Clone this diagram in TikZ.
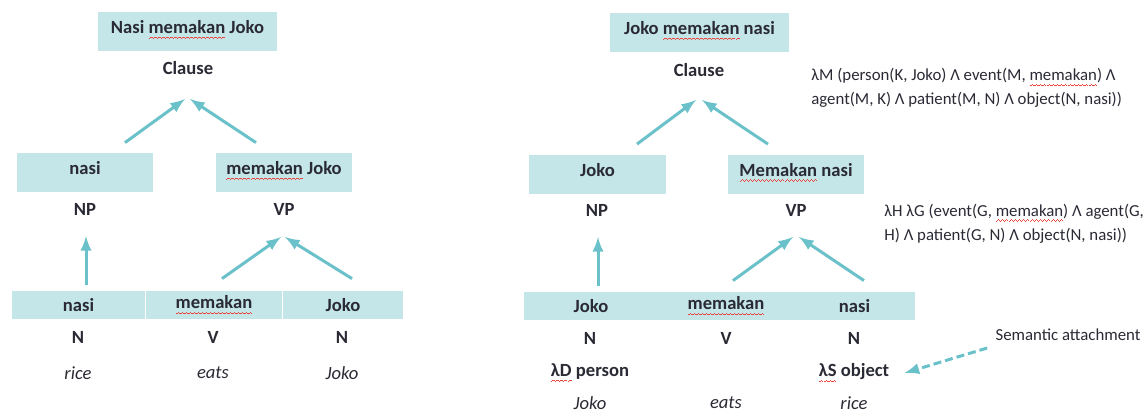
\documentclass[tikz,border=0pt]{standalone}
\usepackage{fontspec}
\setmainfont{Carlito}
\usetikzlibrary{positioning}

\definecolor{boxfill}{HTML}{C4E6E8}
\definecolor{linkcol}{HTML}{6BC1C9}
\definecolor{inkcol}{HTML}{2A2A35}
\definecolor{spellred}{HTML}{E8453C}

% red spell-check wave under a word
\newcommand\wavebit{\rule[0pt]{0.5pt}{0.5pt}\rule[0.4pt]{0.5pt}{0.5pt}\rule[0.8pt]{0.5pt}{0.5pt}\rule[0.4pt]{0.5pt}{0.5pt}}
\newcommand\sq[1]{\setbox0\hbox{#1}\rlap{\color{spellred}\lower2.8pt\hbox to\wd0{\xleaders\hbox{\wavebit}\hfill}}\box0\relax}

\tikzset{
  treefont/.style={font=\fontsize{8.4}{12}\selectfont},
  treebox/.style={fill=boxfill,inner sep=0pt,text=inkcol,font=\fontsize{9.3}{12}\selectfont\bfseries},
  bigbox/.style={treebox,minimum height=19.5pt,text depth=4.5pt},
  wordbox/.style={treebox,minimum height=14pt},
  cat/.style={inner sep=0pt,text=inkcol,font=\fontsize{9.3}{12}\selectfont\bfseries},
  gloss/.style={inner sep=0pt,text=inkcol,font=\fontsize{9.3}{12}\selectfont\itshape},
  sem/.style={treefont,inner sep=0pt,text=inkcol,align=left,anchor=west}
}

\begin{document}
\begin{tikzpicture}[
    x=0.5pt,y=-0.5pt,
    link/.style={line width=1.5pt,linkcol,-latex}
  ]
  \useasboundingbox (0,0) rectangle (1148,414);

  % Nasi memakan Joko
  \node[bigbox,minimum width=89.5pt] (top1) at (187.5,31.5) {Nasi \sq{memakan} Joko};
  \node[cat] (cl1) at (188,68) {Clause};
  \node[bigbox,minimum width=68pt] (np1) at (85,172.5) {nasi};
  \node[bigbox,minimum width=68pt] (vp1) at (284,172.5) {\sq{memakan} Joko};
  \node[cat] (nplab1) at (85,209) {NP};
  \node[cat] (vplab1) at (284,209) {VP};
  \node[wordbox,minimum width=66.5pt] (wa1) at (78.5,305) {nasi};
  \node[wordbox,minimum width=68pt] (wb1) at (214,305) {\sq{memakan}};
  \node[wordbox,minimum width=60pt] (wc1) at (343,305) {Joko};
  \node[cat] (ta1) at (78,337) {N};
  \node[cat] (tb1) at (213,337) {V};
  \node[cat] (tc1) at (342,337) {N};
  \node[gloss] (ga1) at (78,373) {rice};
  \node[gloss] (gb1) at (213,373) {eats};
  \node[gloss] (gc1) at (342,373) {Joko};

  \draw[link] ([xshift=20pt,yshift=5pt]np1.north) -- ([xshift=-1.5pt,yshift=-15.5pt]cl1.center);
  \draw[link] ([xshift=-14pt,yshift=5pt]vp1.north) -- ([xshift=1pt,yshift=-15.5pt]cl1.center);
  \draw[link] ([xshift=3.75pt,yshift=3pt]wa1.north) -- ([xshift=0.5pt,yshift=-13.5pt]nplab1.center);
  \draw[link] ([xshift=4pt,yshift=6pt]wb1.north) -- ([xshift=-1.5pt,yshift=-14pt]vplab1.center);
  \draw[link] ([xshift=4.5pt,yshift=6pt]wc1.north) -- ([xshift=0.5pt,yshift=-14pt]vplab1.center);

  % Joko memakan nasi
  \node[bigbox,minimum width=89.5pt] (top2) at (699.5,32.5) {Joko \sq{memakan} nasi};
  \node[cat] (cl2) at (699,70) {Clause};
  \node[bigbox,minimum width=68.5pt] (np2) at (597.5,174) {Joko};
  \node[bigbox,minimum width=68pt] (vp2) at (796,174) {\sq{Memakan} nasi};
  \node[cat] (nplab2) at (597,210) {NP};
  \node[cat] (vplab2) at (796,210) {VP};
  \node[wordbox,minimum width=67pt] (wa2) at (591,306) {Joko};
  \node[wordbox,minimum width=68pt] (wb2) at (726,306) {\sq{memakan}};
  \node[wordbox,minimum width=60.5pt] (wc2) at (854.5,306) {nasi};
  \node[cat] (ta2) at (590,338) {N};
  \node[cat] (tb2) at (726,338) {V};
  \node[cat] (tc2) at (854,338) {N};
  \node[cat] (la2) at (590,373) {\sq{λD} person};
  \node[cat] (lc2) at (854,373) {\sq{λS} object};
  \node[gloss] (ga2) at (590,403) {Joko};
  \node[gloss] (gb2) at (726,403) {eats};
  \node[gloss] (gc2) at (854,403) {rice};

  \draw[link] ([xshift=19.75pt,yshift=5pt]np2.north) -- ([xshift=-1.5pt,yshift=-15pt]cl2.center);
  \draw[link] ([xshift=-14pt,yshift=5pt]vp2.north) -- ([xshift=1.5pt,yshift=-15pt]cl2.center);
  \draw[link] ([xshift=3.5pt,yshift=3pt]wa2.north) -- ([xshift=0.5pt,yshift=-13.5pt]nplab2.center);
  \draw[link] ([xshift=3.5pt,yshift=5.5pt]wb2.north) -- ([xshift=-1.5pt,yshift=-13.5pt]vplab2.center);
  \draw[link] ([xshift=4.75pt,yshift=5.5pt]wc2.north) -- ([xshift=1.5pt,yshift=-13.5pt]vplab2.center);

  % meanings
  \node[sem] (semcl) at (811,88) {λM (person(K, Joko) Λ event(M, \sq{memakan}) Λ\\agent(M, K) Λ patient(M, N) Λ object(N, nasi))};
  \node[sem] (semvp) at (884,223.5) {λH λG (event(G, \sq{memakan}) Λ agent(G,\\H) Λ patient(G, N) Λ object(N, nasi))};
  \node[treefont,inner sep=0pt,text=inkcol] (note) at (1068,335) {Semantic attachment};
  \draw[link,dashed,dash pattern=on 4pt off 2pt] ([xshift=-4pt,yshift=-6.5pt]note.west) -- ([xshift=7.5pt]lc2.east);
\end{tikzpicture}
\end{document}
